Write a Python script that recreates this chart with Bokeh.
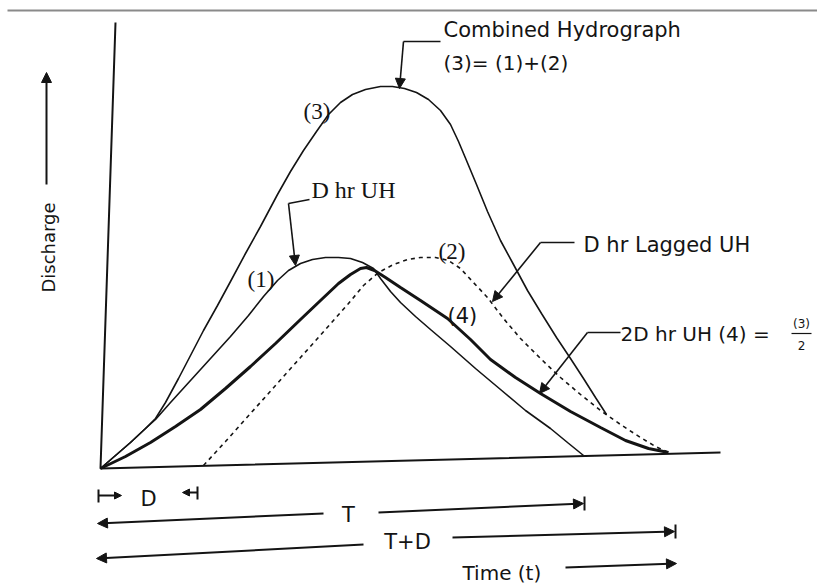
from bokeh.plotting import figure
from bokeh.models import Range1d, Arrow, NormalHead, Label
from bokeh.embed import file_html
from bokeh.resources import INLINE

# ---- data (diagram coordinates) ----
# (1) D hr unit hydrograph
t_uh1 = [100, 115, 130, 145, 155, 170, 190, 210, 230, 248, 263, 277, 288, 300, 312, 325,
         338, 350, 362, 373, 380, 390, 400, 415, 430, 450, 475, 500, 525, 550, 567, 583]
q_uh1 = [468, 455, 442, 428, 419, 402, 380, 358, 336, 315, 296, 280, 270, 263, 259, 257,
         257, 258, 262, 268, 278, 291, 302, 316, 329, 346, 368, 389, 410, 428, 442, 455]
# (2) D hr lagged unit hydrograph (dashed)
t_uh2 = [203, 225, 250, 275, 300, 325, 348, 363, 378, 393, 407, 420, 435, 448, 460, 472,
         487, 503, 520, 540, 560, 580, 600, 620, 640, 655, 668]
q_uh2 = [465, 441, 413, 385, 357, 329, 303, 285, 272, 264, 259, 257, 257, 260, 268, 281,
         297, 318, 338, 358, 377, 394, 410, 424, 437, 446, 452]
# (3) combined hydrograph = (1) + (2)
t_comb = [100, 115, 130, 145, 155, 165, 178, 190, 203, 217, 230, 245, 260, 277, 290, 303,
          316, 328, 340, 352, 365, 380, 392, 404, 416, 428, 440, 450, 458, 466, 476, 487,
          500, 513, 527, 541, 556, 570, 583, 595, 606]
q_comb = [468, 455, 442, 428, 418, 402, 378, 355, 330, 305, 281, 253, 226, 194, 171, 150,
          131, 114, 102, 94, 89, 86, 86, 88, 92, 99, 110, 124, 141, 160, 184, 211,
          240, 264, 290, 313, 337, 358, 378, 397, 414]
# (4) 2D hr unit hydrograph = (3)/2  (thick)
t_uh4 = [100, 125, 150, 175, 200, 225, 250, 275, 300, 320, 338, 350, 360, 366, 374, 385,
         400, 420, 447, 470, 490, 515, 540, 570, 600, 625, 648, 668]
q_uh4 = [468, 456, 442, 426, 409, 388, 366, 343, 319, 300, 283, 274, 268, 267, 270, 277,
         287, 300, 318, 339, 359, 377, 393, 411, 427, 440, 448, 452]
# axes
axis_t = [115, 100, 720]
axis_q = [22, 468, 452]

INK = "#141414"

p = figure(width=817, height=584, x_range=Range1d(0, 817), y_range=Range1d(584, 0),
           output_backend="svg", toolbar_location=None, x_axis_type=None, y_axis_type=None,
           min_border=0, background_fill_color="white", border_fill_color="white")
p.outline_line_color = None
p.xgrid.visible = False
p.ygrid.visible = False

# top rule of the scan
p.line([7, 817], [10, 10], line_color="#8a8a8a", line_width=2)

# axes
p.line(axis_t, axis_q, line_color=INK, line_width=2)

# curves
p.line(t_comb, q_comb, line_color=INK, line_width=1.6)
p.line(t_uh1, q_uh1, line_color=INK, line_width=1.6)
p.line(t_uh2, q_uh2, line_color=INK, line_width=1.6, line_dash="4 4")
p.line(t_uh4, q_uh4, line_color=INK, line_width=3)

def head(sz=9):
    return NormalHead(size=sz, fill_color=INK, line_color=INK, line_width=1)

def arrow(x0, y0, x1, y1, sz=10, lw=1.6):
    p.add_layout(Arrow(end=head(sz), x_start=x0, y_start=y0, x_end=x1, y_end=y1,
                       line_color=INK, line_width=lw))

# callout arrows
p.line([440, 403], [41, 41], line_color=INK, line_width=1.6)
arrow(403, 41, 399, 88)
p.line([309, 288], [199, 203], line_color=INK, line_width=1.6)
arrow(288, 203, 295, 265)
p.line([574, 540], [242, 242], line_color=INK, line_width=1.6)
arrow(540, 242, 492, 301)
p.line([620, 587], [332, 332], line_color=INK, line_width=1.6)
arrow(587, 332, 539, 393)

# Discharge arrow
arrow(46, 184, 46, 72, sz=10, lw=2)

# D markers
p.line([98, 98], [489, 502], line_color=INK, line_width=2)
arrow(98, 495, 121, 495, sz=7, lw=2)
p.line([197, 197], [486, 499], line_color=INK, line_width=2)
arrow(197, 492, 182, 492, sz=7, lw=2)
# T
arrow(323, 513, 97, 523, sz=10, lw=2)
arrow(378, 512, 583, 503, sz=10, lw=2)
p.line([584, 584], [496, 510], line_color=INK, line_width=2)
# T+D
arrow(363, 544, 96, 558, sz=10, lw=2)
arrow(452, 537, 674, 531, sz=10, lw=2)
p.line([675, 675], [524, 538], line_color=INK, line_width=2)
# Time arrow
arrow(565, 567, 676, 563, sz=10, lw=2)

SANS = "DejaVu Sans"
SERIF = "Liberation Serif"

def label(x, y, text, font=SANS, size="21px", align="left", baseline="middle", angle=0):
    p.add_layout(Label(x=x, y=y, text=text, text_font=font, text_font_size=size,
                       text_align=align, text_baseline=baseline, text_color=INK, angle=angle))

label(443, 29, "Combined Hydrograph")
label(443, 62, "(3)= (1)+(2)", size="20px")
label(303, 111, "(3)", font=SERIF, size="23px")
label(311, 189, "D hr UH", font=SERIF, size="24px")
label(247, 279, "(1)", font=SERIF, size="23px")
label(438, 251, "(2)", font=SERIF, size="23px")
label(447, 315, "(4)")
label(583, 244, "D hr Lagged UH")
label(620, 333, "2D hr UH (4) =", size="20px")
label(801, 323, "(3)", size="12px", align="center")
p.line([791, 811], [333, 333], line_color=INK, line_width=1.2)
label(801, 345, "2", size="12px", align="center")
label(48, 247, "Discharge", size="18px", align="center", angle=1.5708)
label(148, 498, "D", size="21px", align="center")
label(348, 514, "T", size="21px", align="center")
label(407, 541, "T+D", size="21px", align="center")
label(462, 572, "Time (t)", size="20px")

open("out.html", "w").write(file_html(p, INLINE))
